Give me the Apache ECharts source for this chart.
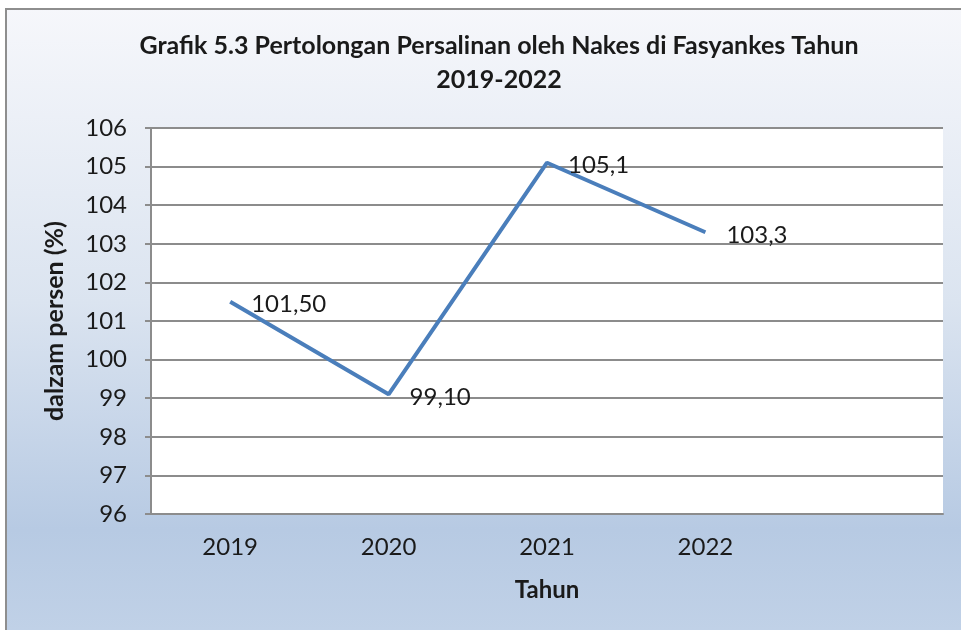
<!DOCTYPE html>
<html>
<head>
<meta charset="utf-8">
<script src="https://cdn.jsdelivr.net/npm/echarts@6/dist/echarts.min.js"></script>
<style>
  html, body { margin: 0; padding: 0; background: #fff; }
  #chart { width: 961px; height: 630px; }
</style>
</head>
<body>
<div id="chart"></div>
<script>
// data
var tahun = ["2019", "2020", "2021", "2022", ""];
var persen = [101.5, 99.1, 105.1, 103.3];
var labelTeks = ["101,50", "99,10", "105,1", "103,3"];

var chart = echarts.init(document.getElementById("chart"));
var font = "Lato, 'Open Sans', sans-serif";

var option = {
  animation: false,
  graphic: [
    {
      type: "rect",
      z: -10,
      silent: true,
      shape: { x: 6, y: 9, width: 980, height: 650 },
      style: {
        fill: new echarts.graphic.LinearGradient(0, 0, 0, 1, [
          { offset: 0, color: "#f6f7fb" },
          { offset: 0.45, color: "#dbe4f0" },
          { offset: 0.8, color: "#b7cae3" },
          { offset: 1, color: "#c3d3e8" }
        ]),
        stroke: "#8e8e8e",
        lineWidth: 2
      }
    }
  ],
  title: {
    text: "Grafik 5.3 Pertolongan Persalinan oleh Nakes di Fasyankes Tahun\n2019-2022",
    left: 494,
    textAlign: "center",
    top: 24,
    textStyle: {
      fontFamily: font,
      fontSize: 25,
      fontWeight: "bold",
      color: "#1a1a1a",
      lineHeight: 34
    }
  },
  grid: { left: 151, right: 18, top: 128, bottom: 116, show: true, backgroundColor: "#fff", borderWidth: 0 },
  xAxis: {
    type: "category",
    data: tahun,
    name: "Tahun",
    nameLocation: "middle",
    nameGap: 64,
    nameTextStyle: { fontFamily: font, fontSize: 24, fontWeight: "bold", color: "#1a1a1a" },
    axisLine: { lineStyle: { color: "#8c8c8c", width: 2 } },
    axisTick: { show: false },
    axisLabel: { fontFamily: font, fontSize: 24, color: "#1a1a1a", margin: 21 }
  },
  yAxis: {
    type: "value",
    min: 96,
    max: 106,
    interval: 1,
    name: "dalzam persen (%)",
    nameLocation: "middle",
    nameGap: 84,
    nameTextStyle: { fontFamily: font, fontSize: 25, fontWeight: "bold", color: "#1a1a1a" },
    axisLine: { show: true, lineStyle: { color: "#8c8c8c", width: 2 } },
    axisTick: { show: true, length: 6, lineStyle: { color: "#8c8c8c", width: 2 } },
    axisLabel: { fontFamily: font, fontSize: 24, color: "#1a1a1a", margin: 24 },
    splitLine: { lineStyle: { color: "#8c8c8c", width: 2 } }
  },
  series: [
    {
      type: "line",
      data: persen,
      showSymbol: true,
      symbol: "circle",
      symbolSize: 2,
      itemStyle: { color: "transparent", borderWidth: 0 },
      lineStyle: { color: "#4a7ebb", width: 4 },
      label: {
        show: true,
        position: "right",
        distance: 20,
        offset: [0, 3],
        fontFamily: font,
        fontSize: 24,
        color: "#1a1a1a",
        formatter: function (p) { return labelTeks[p.dataIndex]; }
      }
    }
  ]
};

chart.setOption(option);
</script>
</body>
</html>
